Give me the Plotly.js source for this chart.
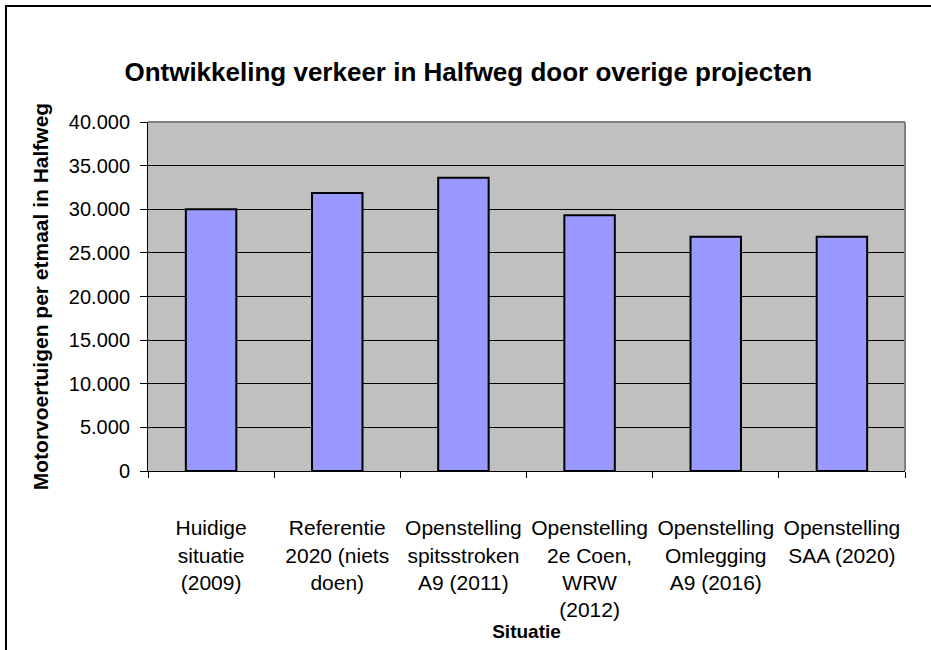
<!DOCTYPE html>
<html>
<head>
<meta charset="utf-8">
<script src="https://cdn.plot.ly/plotly-3.0.1.min.js"></script>
<style>
  html, body { margin: 0; padding: 0; background: #fff; overflow: hidden; }
  #chart { width: 931px; height: 650px; position: absolute; left: 0; top: 0; }
  #frame { position: absolute; left: 5px; top: 5px; width: 1200px; height: 1200px;
           border-left: 2px solid #000; border-top: 2px solid #000; pointer-events: none; }
</style>
</head>
<body>
<div id="chart"></div>
<div id="frame"></div>
<script>
const categories = [
  "Huidige<br>situatie<br>(2009)",
  "Referentie<br>2020 (niets<br>doen)",
  "Openstelling<br>spitsstroken<br>A9 (2011)",
  "Openstelling<br>2e Coen,<br>WRW<br>(2012)",
  "Openstelling<br>Omlegging<br>A9 (2016)",
  "Openstelling<br>SAA (2020)"
];
const values = [30000, 31850, 33600, 29300, 26850, 26850];
const yTickVals = [0, 5000, 10000, 15000, 20000, 25000, 30000, 35000, 40000];

const FONT = '"Liberation Sans", Arial, sans-serif';

const trace = {
  type: 'bar',
  x: categories,
  y: values,
  marker: { color: '#9999ff', line: { color: '#000000', width: 2 } },
  hoverinfo: 'x+y'
};

const layout = {
  width: 931, height: 650,
  margin: { l: 148, r: 26, t: 122, b: 179 },
  paper_bgcolor: '#ffffff',
  plot_bgcolor: '#c0c0c0',
  separators: ',.',
  showlegend: false,
  bargap: 0.6,
  font: { family: FONT, color: '#000' },
  title: {
    text: '<b>Ontwikkeling verkeer in Halfweg door overige projecten</b>',
    font: { family: FONT, size: 26, color: '#000' },
    xref: 'container', yref: 'container',
    x: 0.503, xanchor: 'center',
    y: 1 - 72 / 650, yanchor: 'middle'
  },
  xaxis: {
    type: 'category',
    showgrid: false,
    showline: true, linecolor: '#000', linewidth: 1,
    ticks: 'outside', ticklen: 6, tickcolor: '#000', tickwidth: 1,
    tickson: 'boundaries',
    tickfont: { family: FONT, size: 21, color: '#000' },
    ticklabelstandoff: 38,
    tickangle: 0,
    automargin: false,
    title: { text: '<b>Situatie</b>', font: { family: FONT, size: 19, color: '#000' }, standoff: 4 }
  },
  yaxis: {
    range: [0, 40000],
    tickvals: yTickVals,
    tickformat: ',d',
    showgrid: true, gridcolor: '#000', gridwidth: 1,
    showline: true, linecolor: '#000', linewidth: 1,
    zeroline: false,
    ticks: 'outside', ticklen: 7, tickcolor: '#000', tickwidth: 1,
    tickfont: { family: FONT, size: 20, color: '#000' },
    ticklabelstandoff: 6,
    automargin: false,
    fixedrange: true,
    title: { text: '<b>Motorvoertuigen per etmaal in Halfweg</b>', font: { family: FONT, size: 21, color: '#000' }, standoff: 14 }
  },
  shapes: [
    { type: 'line', xref: 'paper', yref: 'paper', x0: 0, x1: 1, y0: 1, y1: 1,
      line: { color: '#808080', width: 2 }, layer: 'above' },
    { type: 'line', xref: 'paper', yref: 'paper', x0: 1, x1: 1, y0: 0, y1: 1,
      line: { color: '#808080', width: 2 }, layer: 'above' }
  ]
};

Plotly.newPlot('chart', [trace], layout, { displayModeBar: false, staticPlot: true });
</script>
</body>
</html>
